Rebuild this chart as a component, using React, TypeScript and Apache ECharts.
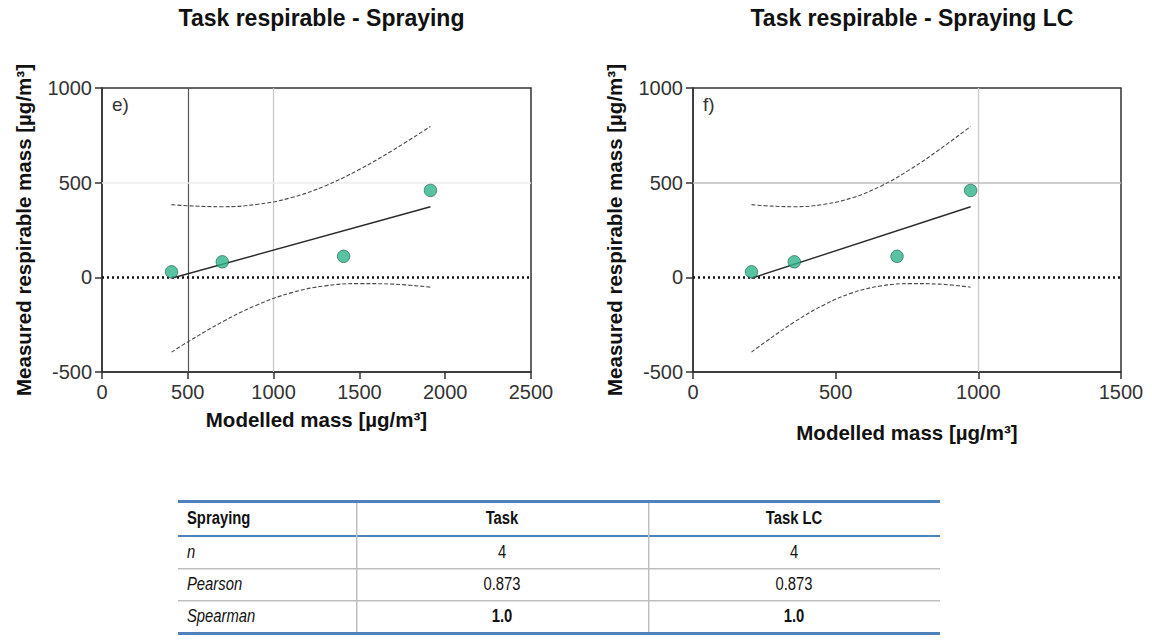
import React, { useEffect, useRef } from 'react';
import * as echarts from 'echarts';

// ---------- data ----------
const panelTitles = ['Task respirable - Spraying', 'Task respirable - Spraying LC'];
const panelLetters = ['e)', 'f)'];
const xAxisName = 'Modelled mass [µg/m³]';
const yAxisName = 'Measured respirable mass [µg/m³]';

// Task (left panel)
const taskModelled = [405, 701, 1408, 1914];
const taskMeasured = [29, 82, 111, 459];
const taskFitX = [405, 1914];
const taskFitY = [-5, 373];
const taskBandX = [405, 500, 700, 900, 1100, 1300, 1500, 1700, 1914];

// Task LC (right panel)
const taskLcModelled = [205, 355, 715, 973];
const taskLcMeasured = [29, 82, 111, 459];
const taskLcFitX = [205, 973];
const taskLcFitY = [-5, 373];
const taskLcBandX = [205, 254, 355, 457, 558, 660, 761, 863, 973];

// 95% band (same measured-scale values in both panels)
const bandUpper = [384, 378, 373, 385, 420, 483, 570, 674, 797];
const bandLower = [-395, -341, -236, -147, -82, -45, -33, -36, -52];

const xMaxTask = 2500;
const xMaxTaskLc = 1500;
const yMin = -500;
const yMax = 1000;
const tickStep = 500;

// reference lines
const taskRefX = [500, 1000];
const taskRefY = [500];
const taskLcRefX = [1000];
const taskLcRefY = [500];

// table
const tableHeader = ['Spraying', 'Task', 'Task LC'];
const tableRowLabels = ['n', 'Pearson', 'Spearman'];
const taskStats = ['4', '0.873', '1.0'];
const taskLcStats = ['4', '0.873', '1.0'];
const statBold = [false, false, true];

// ---------- helpers ----------
const zip = (xs: number[], ys: number[]) => xs.map((x, i) => [x, ys[i]]);
const FONT = '"Liberation Sans", Arial, Helvetica, sans-serif';

const grids = [
  { left: 102, top: 88, width: 429, height: 284 },
  { left: 693, top: 88, width: 428, height: 284 },
];

function panelSeries(
  idx: number,
  mx: number[],
  my: number[],
  fx: number[],
  fy: number[],
  bx: number[],
  refX: number[],
  refY: number[],
  refStyles: any[],
) {
  const common = { xAxisIndex: idx, yAxisIndex: idx };
  const bandStyle = { color: '#4a4a4a', width: 1.1, type: [4, 2] as any };
  const markData: any[] = [];
  refX.forEach((v, i) => markData.push({ xAxis: v, lineStyle: refStyles[i] }));
  refY.forEach((v, i) => markData.push({ yAxis: v, lineStyle: refStyles[refX.length + i] }));
  markData.push({ yAxis: 0, lineStyle: { color: '#111', width: 2.6, type: [2, 3] } });
  return [
    {
      ...common,
      type: 'line',
      data: zip(bx, bandUpper),
      smooth: 0.4,
      symbol: 'none',
      lineStyle: bandStyle,
      silent: true,
      z: 3,
    },
    {
      ...common,
      type: 'line',
      data: zip(bx, bandLower),
      smooth: 0.4,
      symbol: 'none',
      lineStyle: bandStyle,
      silent: true,
      z: 3,
    },
    {
      ...common,
      type: 'line',
      data: zip(fx, fy),
      symbol: 'none',
      lineStyle: { color: '#2a2a2a', width: 1.4 },
      silent: true,
      z: 3,
      markLine: {
        silent: true,
        symbol: 'none',
        label: { show: false },
        data: markData,
        z: 2,
      },
    },
    {
      ...common,
      type: 'scatter',
      data: zip(mx, my),
      symbol: 'circle',
      symbolSize: 12.5,
      itemStyle: { color: '#2db48b', borderColor: '#1f5a48', borderWidth: 0.8 },
      z: 5,
    },
  ];
}

function makeTable() {
  const left = 178;
  const right = 940;
  const colSep = [356, 648];
  const top = 500;
  const headerLine = 535;
  const rowLines = [568, 600];
  const bottom = 632;
  const rowCenters = [552, 584, 616];
  const headerCenter = 518;
  const blue = '#4f81bd';
  const grey = '#bfbfbf';
  const els: any[] = [];
  els.push({ type: 'rect', shape: { x: left, y: top, width: right - left, height: 3 }, style: { fill: blue } });
  els.push({ type: 'rect', shape: { x: left, y: headerLine, width: right - left, height: 2 }, style: { fill: blue } });
  rowLines.forEach((y) =>
    els.push({ type: 'rect', shape: { x: left, y, width: right - left, height: 1.5 }, style: { fill: grey } }),
  );
  els.push({ type: 'rect', shape: { x: left, y: bottom, width: right - left, height: 3 }, style: { fill: blue } });
  colSep.forEach((x) =>
    els.push({ type: 'rect', shape: { x, y: top + 3, width: 1.5, height: bottom - top - 3 }, style: { fill: grey } }),
  );
  const colCenters = [(colSep[0] + colSep[1]) / 2, (colSep[1] + right) / 2];
  const txt = (text: string, x: number, y: number, align: string, weight: string, italic: boolean, size: number) => ({
    type: 'text',
    x,
    y,
    scaleX: 0.78,
    style: {
      text,
      fontSize: size,
      fontFamily: FONT,
      fontWeight: weight,
      fontStyle: italic ? 'italic' : 'normal',
      fill: '#111',
      align,
      verticalAlign: 'middle',
      textAlign: align,
      textVerticalAlign: 'middle',
    },
  });
  els.push(txt(tableHeader[0], left + 9, headerCenter, 'left', 'bold', false, 19));
  els.push(txt(tableHeader[1], colCenters[0], headerCenter, 'center', 'bold', false, 19));
  els.push(txt(tableHeader[2], colCenters[1], headerCenter, 'center', 'bold', false, 19));
  tableRowLabels.forEach((lab, i) => {
    const y = rowCenters[i];
    els.push(txt(lab, left + 9, y, 'left', 'normal', true, 19));
    els.push(txt(taskStats[i], colCenters[0], y, 'center', statBold[i] ? 'bold' : 'normal', false, 19));
    els.push(txt(taskLcStats[i], colCenters[1], y, 'center', statBold[i] ? 'bold' : 'normal', false, 19));
  });
  return els;
}

export default function App() {
  const ref = useRef<HTMLDivElement>(null);
  useEffect(() => {
    if (!ref.current) return;
    const chart = echarts.init(ref.current, undefined, { renderer: 'svg' });
    const axisLine = { show: true, onZero: false, lineStyle: { color: '#333', width: 1.5 } };
    const axisTick = { show: true, length: 7, lineStyle: { color: '#333', width: 1.5 } };
    const axisLabel = {
      color: '#333',
      fontSize: 20,
      fontFamily: FONT,
      margin: 10,
      formatter: (v: number) => String(v),
    };
    const nameStyle = { color: '#111', fontSize: 20.5, fontWeight: 'bold', fontFamily: FONT };
    const xMaxes = [xMaxTask, xMaxTaskLc];
    const xGaps = [37, 50];

    const option: any = {
      animation: false,
      backgroundColor: '#fff',
      title: panelTitles.map((t, i) => ({
        text: t,
        left: grids[i].left + grids[i].width / 2,
        top: 1,
        textAlign: 'center',
        textStyle: { fontSize: 23, fontWeight: 'bold', color: '#111', fontFamily: FONT },
      })),
      grid: grids.map((g) => ({ ...g, show: true, borderColor: '#333', borderWidth: 1.5, backgroundColor: 'transparent' })),
      xAxis: xMaxes.map((mx, i) => ({
        type: 'value',
        gridIndex: i,
        min: 0,
        max: mx,
        interval: tickStep,
        axisLine,
        axisTick,
        axisLabel,
        splitLine: { show: false },
        name: xAxisName,
        nameLocation: 'middle',
        nameGap: xGaps[i],
        nameTextStyle: nameStyle,
      })),
      yAxis: grids.map((_, i) => ({
        type: 'value',
        gridIndex: i,
        min: yMin,
        max: yMax,
        interval: tickStep,
        axisLine,
        axisTick,
        axisLabel,
        splitLine: { show: false },
        name: yAxisName,
        nameLocation: 'middle',
        nameGap: 68,
        nameTextStyle: nameStyle,
      })),
      series: [
        ...panelSeries(0, taskModelled, taskMeasured, taskFitX, taskFitY, taskBandX, taskRefX, taskRefY, [
          { color: '#555', width: 1.2, type: 'solid' },
          { color: '#c8c8c8', width: 1.3, type: 'solid' },
          { color: '#ececec', width: 1.5, type: 'solid' },
        ]),
        ...panelSeries(1, taskLcModelled, taskLcMeasured, taskLcFitX, taskLcFitY, taskLcBandX, taskLcRefX, taskLcRefY, [
          { color: '#cfcfcf', width: 1.4, type: 'solid' },
          { color: '#bdbdbd', width: 1.5, type: 'solid' },
        ]),
      ],
      graphic: [
        {
          type: 'text',
          left: 112,
          top: 95,
          style: { text: panelLetters[0], fontSize: 19, fontFamily: FONT, fill: '#333' },
        },
        {
          type: 'text',
          left: 703,
          top: 95,
          style: { text: panelLetters[1], fontSize: 19, fontFamily: FONT, fill: '#333' },
        },
        ...makeTable(),
      ],
    };
    chart.setOption(option);
    return () => chart.dispose();
  }, []);
  return (
    <div
      ref={ref}
      style={{ position: 'absolute', left: 0, top: 0, width: 1152, height: 644 }}
    />
  );
}
